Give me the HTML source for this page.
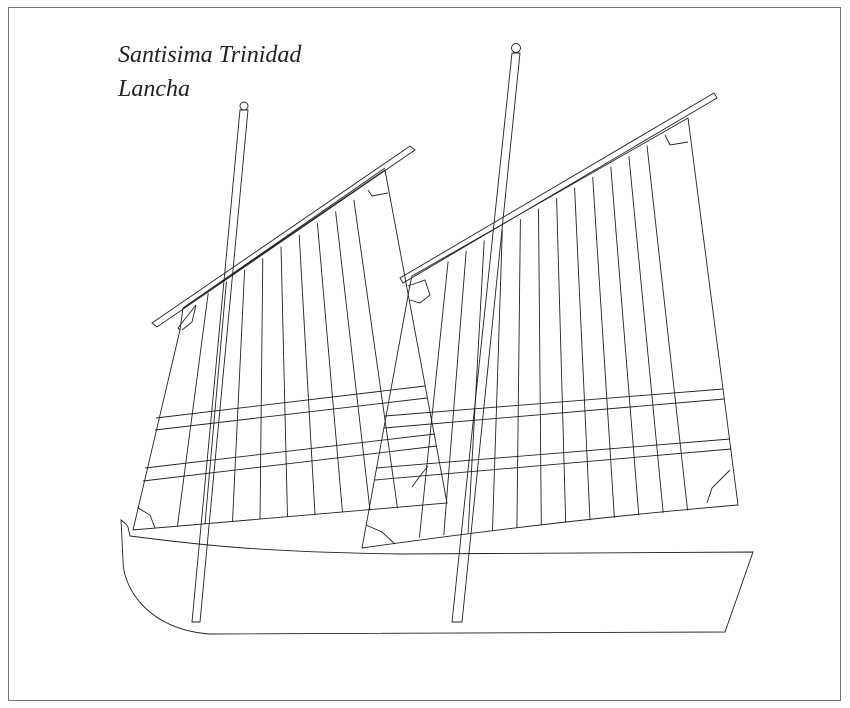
<!DOCTYPE html>
<html><head><meta charset="utf-8"><style>
html,body{margin:0;padding:0;background:#fff;}
svg{display:block;}
</style></head><body>
<svg width="850" height="708" viewBox="0 0 850 708" xmlns="http://www.w3.org/2000/svg">
<rect x="8.5" y="7.5" width="832" height="693" fill="#fff" stroke="#777" stroke-width="1"/>
<text x="118" y="62" font-family="Liberation Serif, serif" font-style="italic" font-size="24" fill="#222">Santisima Trinidad</text>
<text x="118" y="96" font-family="Liberation Serif, serif" font-style="italic" font-size="24" fill="#222">Lancha</text>
<g fill="none" stroke="#222" stroke-width="0.9">
<!-- hull -->
<path d="M121,520 L126,524 L128,527 L130,536 C200,545 260,552 400,554 L753,552 L725,632 L210,634 C150,630 123,590 123,560 L121,520 Z" fill="#fff"/>
<!-- left sail -->
<path d="M183,308 L385,170 L447,503 L133,530 L180,330 Z"/>
<path d="M152,323 L410,146 L415,150 L157,327 Z"/>
<path d="M183,308 L385,168"/>
<path d="M180,330 L178,328 L196,305 M196,305 L192,322 L182,330"/>
<path d="M368,190 L372,196 L388,193"/>
<path d="M138,508 L150,515 L155,528"/>
<path d="M412,487 L420,476 L428,466"/>
<path d="M156,418 L425,386 M155,430 L427,398 M145,468 L435,434 M143,481 L437,446"/>
<path d="M208.2,293.3 L177.5,525.8 M226.4,281.6 L205,523.6 M244.6,269.9 L232.5,521.4 M262.8,258.2 L260,519.2 M281,246.5 L287.5,517 M299.2,234.8 L315,514.8 M317.4,223.1 L342.5,512.6 M335.6,211.4 L370,510.4 M353.8,199.7 L397.5,508.2"/>
<!-- right sail -->
<path d="M412,276 L688,118 L738,505 Q560,520 362,548 L410,285 Z"/>
<path d="M400,278 L714,93 L717,98 L403,283 Z"/>
<path d="M408,286 L425,280 L430,295 L420,303 L410,300"/>
<path d="M665,135 L670,145 L688,142"/>
<path d="M366,525 L382,532 L395,544"/>
<path d="M707,503 L712,488 L730,470"/>
<path d="M385,416 L723,389 M384,428 L724,399 M376,468 L730,439 M375,480 L731,449"/>
<path d="M448.1,261.5 L419.4,537.5 M466.2,250.9 L443.8,535.1 M484.2,240.4 L468.1,532.6 M502.3,229.8 L492.5,530.2 M520.4,219.3 L516.9,527.7 M538.5,208.8 L541.3,525.2 M556.6,198.2 L565.7,522.8 M574.6,187.7 L590,520.3 M592.7,177.1 L614.4,517.9 M610.8,166.6 L638.8,515.4 M628.9,156.1 L663.2,512.9 M647,145.5 L687.6,510.5"/>
<!-- masts -->
<path d="M240,110 L248,110 L200,622 L192,622 Z" fill="none"/>
<circle cx="244" cy="106" r="4" fill="#fff"/>
<path d="M512,53 L520,53 L462,622 L452,622 Z"/>
<circle cx="516" cy="48" r="4.5" fill="#fff"/>
</g>
</svg>
</body></html>
